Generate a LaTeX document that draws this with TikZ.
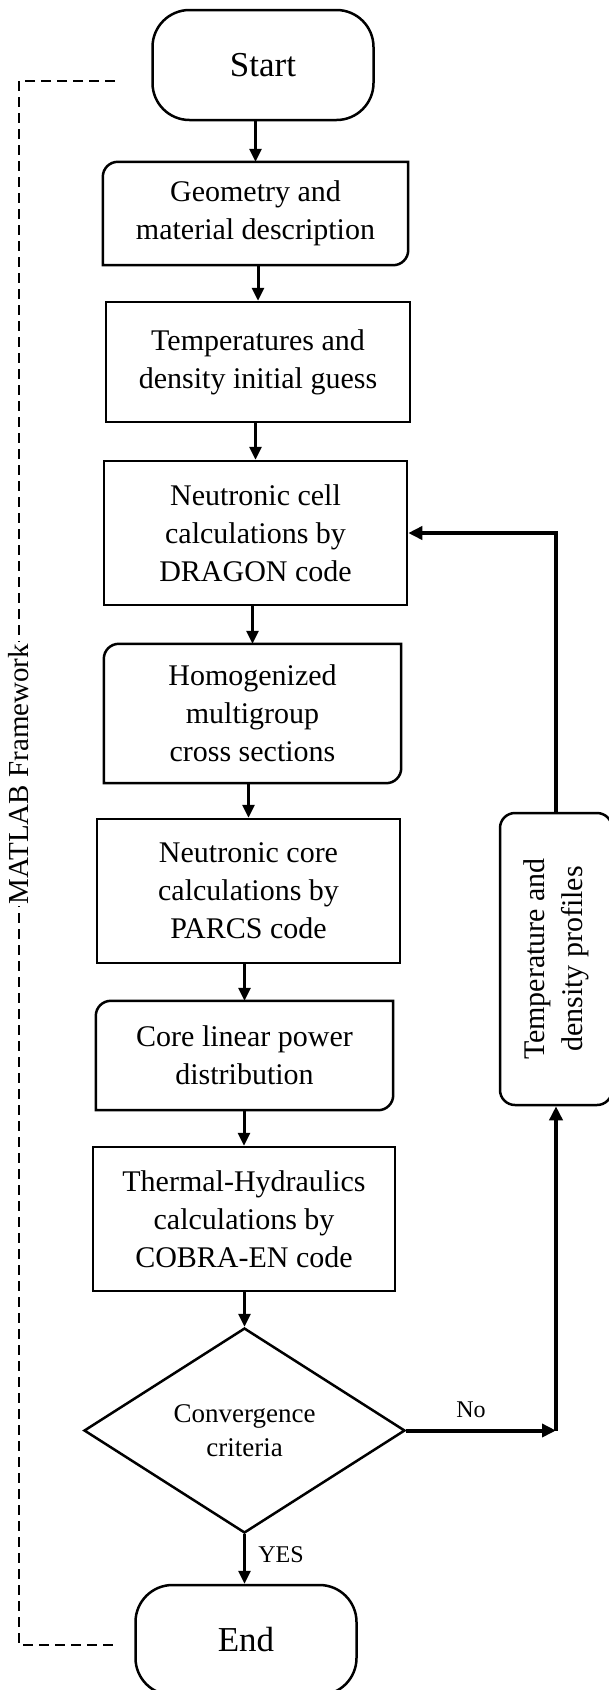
\documentclass[tikz,border=0pt]{standalone}
\usepackage{fontspec}
\setmainfont{Liberation Serif}
\usetikzlibrary{
    arrows.meta,
    shapes.geometric
}

% box with rounded top-left and bottom-right corners
\newcommand{\halfround}[1]{%
  \draw[line width=2.5pt] ([yshift=-15pt]#1.north west)
    arc[start angle=180, end angle=90, radius=15pt] -- (#1.north east)
    -- ([yshift=15pt]#1.south east)
    arc[start angle=0, end angle=-90, radius=15pt] -- (#1.south west) -- cycle;}

\begin{document}
\begin{tikzpicture}[x=1pt, y=1pt,
    every node/.style={font=\fontsize{30}{38}\selectfont, align=center, inner sep=0pt},
    proc/.style={draw, line width=2.5pt},
    term/.style={draw, line width=2.5pt, rounded corners=37pt,
        minimum width=221pt, minimum height=110pt, font=\fontsize{35}{40}\selectfont},
    flow/.style={line width=3pt, -{Triangle[length=13pt, width=12pt]}},
    loop/.style={line width=4pt, -{Triangle[length=14pt, width=13pt]}},
    frame/.style={line width=2pt, dash pattern=on 10pt off 6pt},
    tag/.style={font=\fontsize{24}{28}\selectfont}
]
\useasboundingbox (0,0) rectangle (609,-1690);

% Main column
\node[term] (start) at (263,-65) {Start};
\node[minimum width=305pt, minimum height=103pt] (geom) at (255.5,-213.5)
    {Geometry and\\material description};
\halfround{geom}
\node[proc, minimum width=304pt, minimum height=120pt] (guess) at (258,-362)
    {Temperatures and\\density initial guess};
\node[proc, minimum width=303pt, minimum height=144pt] (cell) at (255.5,-533)
    {Neutronic cell\\calculations by\\DRAGON code};
\node[minimum width=297pt, minimum height=139pt] (homog) at (252.5,-713.5)
    {Homogenized\\multigroup\\cross sections};
\halfround{homog}
\node[proc, minimum width=303pt, minimum height=144pt] (core) at (248.5,-891)
    {Neutronic core\\calculations by\\PARCS code};
\node[minimum width=297pt, minimum height=109pt] (power) at (244.5,-1055.5)
    {Core linear power\\distribution};
\halfround{power}
\node[proc, minimum width=302pt, minimum height=144pt] (thermal) at (244,-1219)
    {Thermal-Hydraulics\\calculations by\\COBRA-EN code};
\node[draw, diamond, line width=2.5pt, minimum width=321pt, minimum height=205pt,
    font=\fontsize{27}{34}\selectfont] (conv) at (244.5,-1430.5)
    {Convergence\\criteria};
\node[term] (end) at (246,-1640) {End};

% Feedback box
\node[proc, rounded corners=15pt, minimum width=112pt, minimum height=292pt]
    (prof) at (556,-959) {};
\node[rotate=90] (proftext) at (prof.center) {Temperature and\\density profiles};

% Arrows
\draw[flow] (geom.north |- start.south) -- (geom.north);
\draw[flow] (guess.north |- geom.south) -- (guess.north);
\draw[flow] (cell.north |- guess.south) -- (cell.north);
\draw[flow] (homog.north |- cell.south) -- (homog.north);
\draw[flow] (core.north |- homog.south) -- (core.north);
\draw[flow] (power.north |- core.south) -- (power.north);
\draw[flow] (thermal.north |- power.south) -- (thermal.north);
\draw[flow] (conv.north |- thermal.south) -- (conv.north);
\draw[flow] (conv.south) -- (conv.south |- end.north);

% Loop back
\coordinate (turn) at (conv.east -| prof.south);
\draw[loop] (conv.east) -- (turn);
\draw[loop] (turn) -- (prof.south);
\draw[loop] (prof.north) |- (cell.east);

% Labels
\node[tag] (no) at (471,-1410) {No};
\node[tag] (yes) at (281,-1555) {YES};

% MATLAB frame
\coordinate (ftop) at (115,-81);
\coordinate (fleft) at (19,-863);
\coordinate (fbot) at (115,-1645);
\draw[frame] (ftop) -| (fleft) |- (fbot);
\node[rotate=90, fill=white, inner sep=2pt, font=\fontsize{29}{34}\selectfont]
    (matlab) at (19,-774) {MATLAB Framework};

\end{tikzpicture}
\end{document}
